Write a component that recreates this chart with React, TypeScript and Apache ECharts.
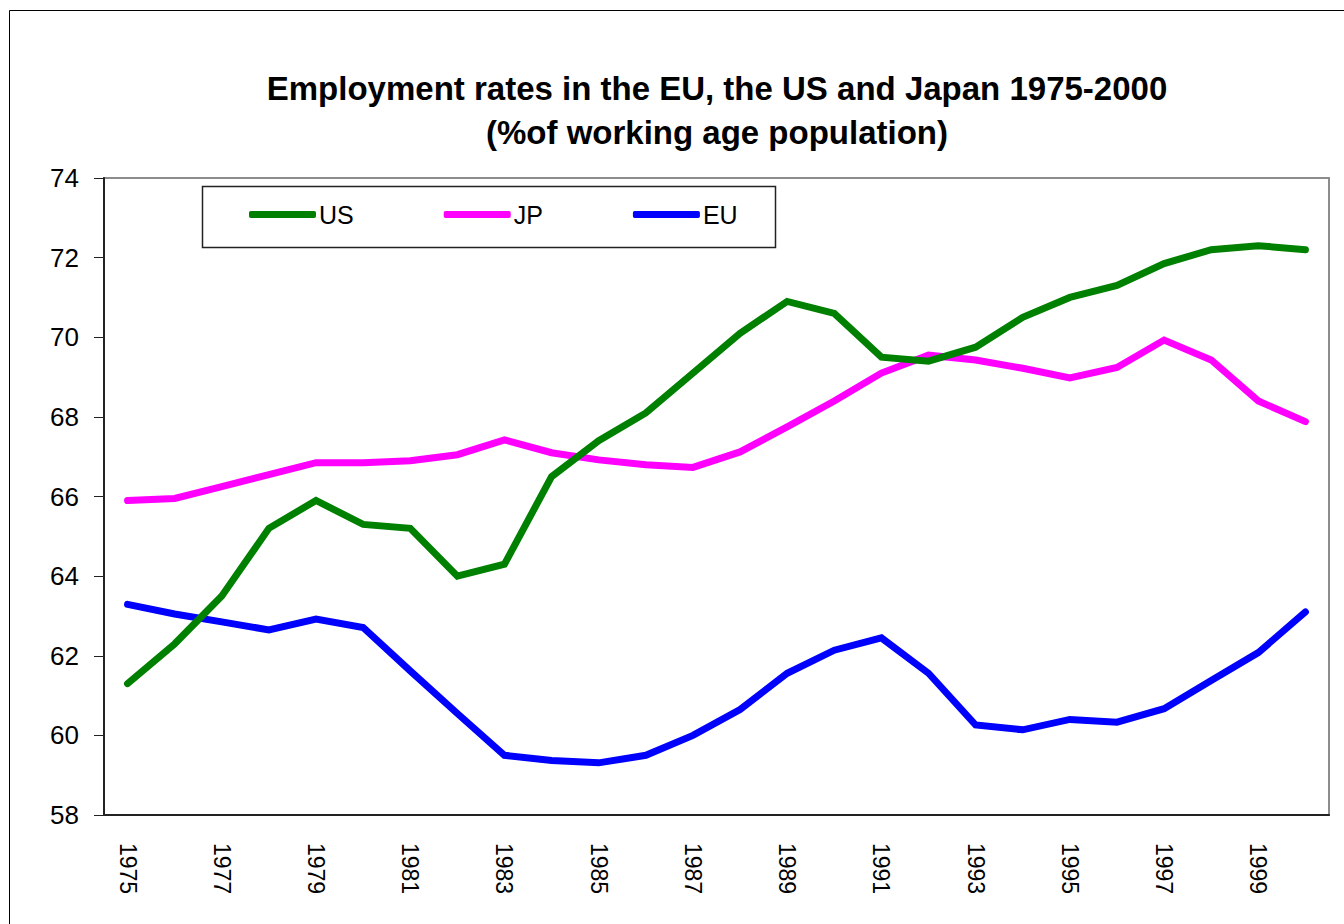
import React, { useEffect, useRef } from "react";
import * as echarts from "echarts";

const years = ["1975","1976","1977","1978","1979","1980","1981","1982","1983","1984","1985","1986","1987","1988","1989","1990","1991","1992","1993","1994","1995","1996","1997","1998","1999","2000"];
const usValues = [61.3, 62.3, 63.5, 65.2, 65.9, 65.3, 65.2, 64.0, 64.3, 66.5, 67.4, 68.1, 69.1, 70.1, 70.9, 70.6, 69.5, 69.4, 69.75, 70.5, 71.0, 71.3, 71.85, 72.2, 72.3, 72.2];
const jpValues = [65.9, 65.95, 66.25, 66.55, 66.85, 66.85, 66.9, 67.05, 67.42, 67.1, 66.92, 66.8, 66.73, 67.12, 67.75, 68.4, 69.1, 69.55, 69.43, 69.22, 68.98, 69.24, 69.93, 69.43, 68.4, 67.88];
const euValues = [63.29, 63.05, 62.85, 62.65, 62.92, 62.71, 61.62, 60.55, 59.5, 59.37, 59.31, 59.5, 60.0, 60.65, 61.56, 62.14, 62.45, 61.56, 60.26, 60.14, 60.4, 60.33, 60.67, 61.38, 62.08, 63.1];
const seriesNames = ["US", "JP", "EU"];
const titleLine1 = "Employment rates in the EU, the US and Japan 1975-2000";
const titleLine2 = "(%of working age population)";

const FONT = "'Liberation Sans', Arial, sans-serif";

export default function App() {
  const ref = useRef<HTMLDivElement>(null);
  useEffect(() => {
    if (!ref.current) return;
    const chart = echarts.init(ref.current, null, { renderer: "svg" });
    const colors = ["#008000", "#FF00FF", "#0000FF"];
    const data = [usValues, jpValues, euValues];
    chart.setOption({
      animation: false,
      backgroundColor: "#ffffff",
      grid: { left: 104, right: 15, top: 178, bottom: 109, show: true, borderColor: "#8c8c8c", borderWidth: 2, backgroundColor: "transparent" },
      graphic: [
        { type: "rect", shape: { x: 9.5, y: 10.5, width: 1400, height: 1000 }, style: { fill: "none", stroke: "#000", lineWidth: 1 }, silent: true, z: -10 },
        { type: "text", x: 717, y: 88, style: { text: titleLine1, font: `bold 33px ${FONT}`, fill: "#000", align: "center", verticalAlign: "middle" } },
        { type: "text", x: 717, y: 132, style: { text: titleLine2, font: `bold 33px ${FONT}`, fill: "#000", align: "center", verticalAlign: "middle" } },
        { type: "rect", shape: { x: 202.5, y: 186.5, width: 573, height: 61 }, style: { fill: "#fff", stroke: "#222", lineWidth: 1.5 }, z: 5 },
      ],
      legend: {
        data: seriesNames,
        left: 244,
        top: 197,
        itemWidth: 67,
        itemHeight: 7,
        itemGap: 90,
        icon: "roundRect",
        z: 10,
        textStyle: { fontFamily: FONT, fontSize: 25, color: "#000", padding: [0, 0, 0, -2] },
      },
      xAxis: {
        type: "category",
        data: years,
        boundaryGap: true,
        axisLine: { lineStyle: { color: "#222", width: 2 } },
        axisTick: { interval: 0, length: 10, lineStyle: { color: "#222", width: 1 } },
        axisLabel: { interval: 1, rotate: -90, margin: 28, fontFamily: FONT, fontSize: 23, color: "#000" },
        splitLine: { show: false },
      },
      yAxis: {
        type: "value",
        min: 58,
        max: 74,
        interval: 2,
        axisLine: { show: true, lineStyle: { color: "#222", width: 2 } },
        axisTick: { show: true, length: 10, lineStyle: { color: "#222", width: 1 } },
        axisLabel: { margin: 25, fontFamily: FONT, fontSize: 26, color: "#000" },
        splitLine: { show: false },
      },
      series: seriesNames.map((name, i) => ({
        name,
        type: "line",
        data: data[i],
        symbol: "none",
        color: colors[i],
        lineStyle: { color: colors[i], width: 7, cap: "round", join: "miter" },
        z: 3 - i,
      })),
    });
    return () => chart.dispose();
  }, []);
  return <div ref={ref} style={{ position: "fixed", left: 0, top: 0, width: 1344, height: 924 }} />;
}
